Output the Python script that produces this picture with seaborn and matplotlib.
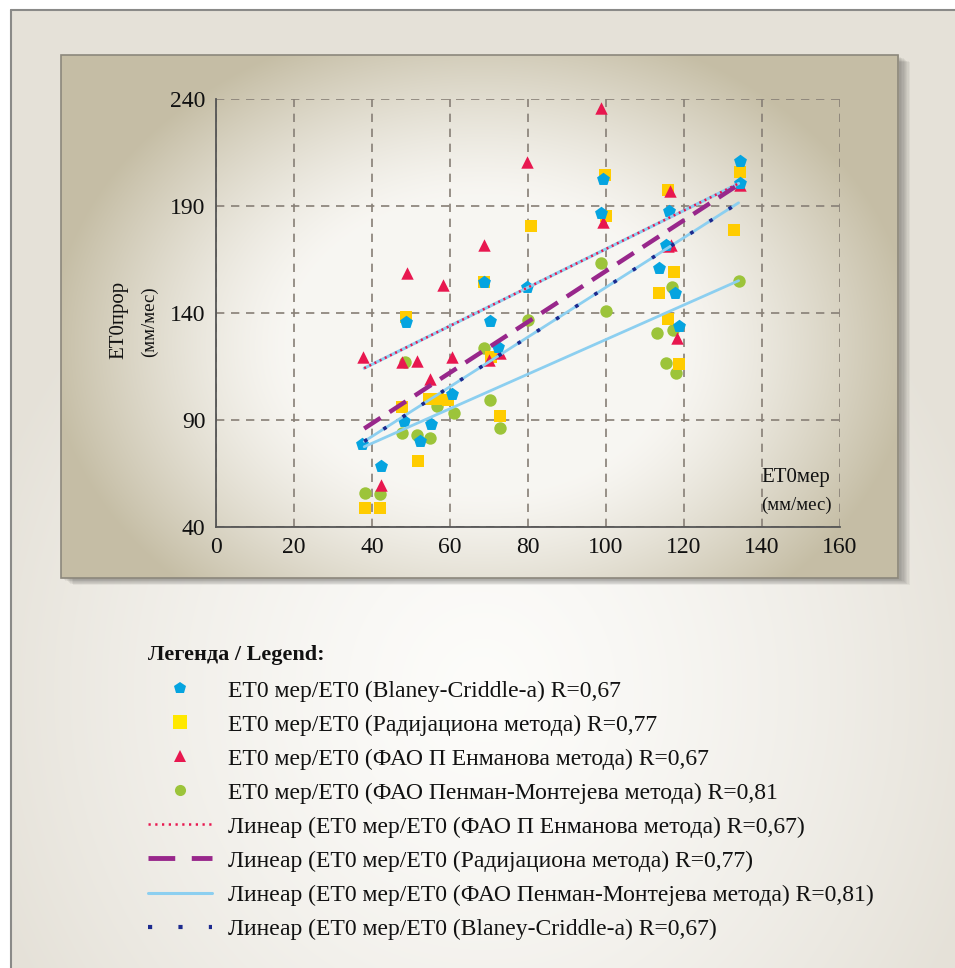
import numpy as np
import pandas as pd
import matplotlib
matplotlib.use("Agg")
import matplotlib.pyplot as plt
import seaborn as sns
from matplotlib.lines import Line2D
from matplotlib.patches import Rectangle

# ---------------- data ----------------
bc_x = [37.5, 42.3, 48.1, 48.8, 52.3, 55.0, 60.4, 68.7, 70.2, 72.3, 79.7, 99.2, 98.7, 113.7, 115.3, 116.2, 117.8, 118.7, 134.3, 134.3]
bc_y = [78.6, 68.6, 89.5, 135.7, 80.2, 88.0, 102.1, 154.3, 136.4, 124.3, 152.0, 202.5, 186.9, 160.9, 171.8, 187.8, 149.5, 133.9, 211.0, 200.9]

rad_x = [38.3, 42.0, 47.8, 48.8, 51.7, 54.5, 57.0, 59.5, 68.7, 70.4, 72.7, 80.8, 99.7, 100.1, 113.7, 115.8, 115.8, 117.5, 118.7, 132.7, 134.3]
rad_y = [48.7, 48.7, 95.9, 138.3, 70.8, 99.8, 100.0, 99.3, 154.3, 119.3, 91.9, 180.5, 204.5, 185.3, 149.4, 197.5, 137.0, 159.2, 116.2, 178.6, 206.0]

enm_x = [37.7, 42.2, 47.8, 48.9, 51.5, 54.9, 58.1, 60.6, 68.8, 70.1, 72.7, 79.7, 98.8, 99.2, 115.8, 116.7, 116.4, 118.3, 134.3]
enm_y = [119.3, 59.5, 117.0, 158.5, 117.7, 109.0, 153.0, 119.6, 171.8, 118.0, 121.2, 210.7, 235.6, 182.7, 171.3, 172.0, 197.0, 128.2, 199.8]

pm_x = [38.2, 42.0, 47.7, 48.5, 51.5, 54.9, 56.6, 60.9, 68.6, 70.2, 72.7, 79.9, 98.6, 99.9, 113.0, 115.3, 116.8, 117.2, 117.9, 134.2]
pm_y = [55.7, 55.3, 83.8, 117.2, 83.0, 81.7, 96.5, 93.1, 123.5, 99.3, 86.4, 136.7, 163.5, 141.1, 130.8, 116.5, 152.0, 132.0, 112.1, 155.1]

# trend lines (start / end values)
trend_x = [38, 134]
trend_enm = [114.2, 200.5]
trend_rad = [86.0, 200.0]
trend_pm = [77.5, 155.1]
trend_bc = [80.0, 191.5]

x_ticks = [0, 20, 40, 60, 80, 100, 120, 140, 160]
y_ticks = [40, 90, 140, 190, 240]

legend_title = "Легенда / Legend:"
labels_pts = ["ET0 мер/ET0 (Blaney-Criddle-а) R=0,67",
              "ET0 мер/ET0 (Радијациона метода) R=0,77",
              "ET0 мер/ET0 (ФАО П Енманова метода) R=0,67",
              "ET0 мер/ET0 (ФАО Пенман-Монтејева метода) R=0,81"]
labels_lines = ["Линеар (ET0 мер/ET0 (ФАО П Енманова метода) R=0,67)",
                "Линеар (ET0 мер/ET0 (Радијациона метода) R=0,77)",
                "Линеар (ET0 мер/ET0 (ФАО Пенман-Монтејева метода) R=0,81)",
                "Линеар (ET0 мер/ET0 (Blaney-Criddle-а) R=0,67)"]

# ---------------- style ----------------
sns.set_theme(style="white")
SERIF = ["Liberation Serif", "DejaVu Serif"]
plt.rcParams["font.family"] = SERIF

C_BC = "#05a4e0"
C_RAD = "#ffcc00"
C_ENM = "#e8174f"
C_PM = "#9cc43a"
C_PUR = "#98278b"
C_LB = "#8ccff0"
C_NAVY = "#1c2a8e"
C_TXT = "#111111"

W, H = 955, 968
fig = plt.figure(figsize=(W / 100, H / 100), dpi=100)

# ---------------- background ----------------
bg = fig.add_axes([0, 0, 1, 1], zorder=0)
bg.set_xlim(0, W)
bg.set_ylim(H, 0)
bg.axis("off")
bg.add_patch(Rectangle((0, 0), W, H, color="white", zorder=0))

yy, xx = np.mgrid[0:H - 10, 0:W - 11]
r = np.sqrt(((xx - 470) / 520.0) ** 2 + ((yy - 680) / 560.0) ** 2)
t = np.clip(r, 0, 1) ** 1.4
light = np.array([0.990, 0.988, 0.980])
dark = np.array([0.900, 0.885, 0.850])
img = light[None, None, :] * (1 - t[..., None]) + dark[None, None, :] * t[..., None]
bg.imshow(img, extent=(11, W, H, 10), zorder=1, aspect="auto", interpolation="bilinear")
bg.plot([11, W], [10, 10], color="#8a8a88", lw=1.5, zorder=2)
bg.plot([11, 11], [10, H], color="#8a8a88", lw=1.5, zorder=2)

# panel shadow (soft, towards bottom-right)
for k in range(8):
    off = 12 - k * 1.3
    bg.add_patch(Rectangle((61 + off, 55 + off * 0.6), 837, 523, color="#3a3834",
                           alpha=0.06, lw=0, zorder=3))

px0, px1, py0, py1 = 61, 898, 55, 578
yy, xx = np.mgrid[0:py1 - py0, 0:px1 - px0]
r = np.sqrt(((xx - 420) / 430.0) ** 2 + ((yy - 290) / 330.0) ** 2)
t = np.clip((r - 0.45) / 0.55, 0, 1) ** 1.3
light = np.array([0.972, 0.966, 0.950])
dark = np.array([0.775, 0.745, 0.650])
img = light[None, None, :] * (1 - t[..., None]) + dark[None, None, :] * t[..., None]
bg.imshow(img, extent=(px0, px1, py1, py0), zorder=4, aspect="auto", interpolation="bilinear")
bg.add_patch(Rectangle((px0, py0), px1 - px0, py1 - py0, fill=False, ec="#8c877c", lw=1.2, zorder=5))

# ---------------- plot axes ----------------
ax = fig.add_axes([216 / W, 1 - 527 / H, (840 - 216) / W, (527 - 99) / H], zorder=2)
ax.patch.set_alpha(0)

sns.scatterplot(x=pm_x, y=pm_y, ax=ax, color=C_PM, marker="o", s=80, linewidth=0, zorder=3)
sns.scatterplot(x=rad_x, y=rad_y, ax=ax, color=C_RAD, marker="s", s=85, linewidth=0, zorder=3)
sns.scatterplot(x=enm_x, y=enm_y, ax=ax, color=C_ENM, marker="^", s=80, linewidth=0, zorder=3)
sns.scatterplot(x=bc_x, y=bc_y, ax=ax, color=C_BC, marker="p", s=95, linewidth=0, zorder=3)

def tline(yv, **kw):
    sns.lineplot(x=trend_x, y=yv, ax=ax, **kw)
    return ax.lines[-1]

# light blue underlays
tline(trend_enm, color=C_LB, lw=2.2, zorder=4)
tline(trend_bc, color=C_LB, lw=2.0, zorder=4)
tline(trend_pm, color=C_LB, lw=2.0, zorder=4)
l = tline(trend_enm, color=C_ENM, lw=1.8, zorder=5)
l.set_linestyle((0, (0.8, 1.5)))
l = tline(trend_rad, color=C_PUR, lw=3.2, zorder=5)
l.set_linestyle((0, (4.4, 2.4)))
l = tline(trend_bc, color=C_NAVY, lw=2.6, zorder=5)
l.set_linestyle((0, (1.0, 5.3)))

ax.set_xlim(0, 160)
ax.set_ylim(40, 240)
ax.set_xticks(x_ticks)
ax.set_yticks(y_ticks)
ax.grid(True, ls=(0, (5, 4)), color="#877f76", lw=1.2)
ax.set_axisbelow(True)
for s in ["top", "right"]:
    ax.spines[s].set_visible(False)
for s in ["left", "bottom"]:
    ax.spines[s].set_visible(True)
    ax.spines[s].set_color("#555555")
    ax.spines[s].set_linewidth(1.3)
ax.tick_params(axis="both", direction="inout", length=9, width=1.0, color="#777777",
               labelsize=17, labelcolor=C_TXT, pad=3)
ax.set_xlabel("")
ax.set_ylabel("")
for lab in ax.get_xticklabels() + ax.get_yticklabels():
    lab.set_fontfamily(SERIF)

# axis titles
fig.text(119 / W, 1 - 320 / H, "ET0прор", rotation=90, ha="center", va="center", fontsize=15, color=C_TXT)
fig.text(149 / W, 1 - 322 / H, "(мм/мес)", rotation=90, ha="center", va="center", fontsize=13.5, color=C_TXT)
fig.text(796 / W, 1 - 478 / H, "ET0мер", ha="center", va="center", fontsize=15, color=C_TXT, zorder=6)
fig.text(796 / W, 1 - 505 / H, "(мм/мес)", ha="center", va="center", fontsize=13.5, color=C_TXT, zorder=6)

# ---------------- legend ----------------
fig.text(148 / W, 1 - 655 / H, legend_title, ha="left", va="center", fontsize=16,
         weight="bold", color=C_TXT)
handles = [
    Line2D([], [], ls="none", marker="p", ms=9, color=C_BC, mew=0),
    Line2D([], [], ls="none", marker="s", ms=10, color="#ffe800", mew=0),
    Line2D([], [], ls="none", marker="^", ms=8, color=C_ENM, mew=0),
    Line2D([], [], ls="none", marker="o", ms=8, color=C_PM, mew=0),
    Line2D([], [], ls=(0, (0.9, 1.8)), lw=1.8, color=C_ENM),
    Line2D([], [], ls=(0, (5.5, 3.4)), lw=3.5, color=C_PUR),
    Line2D([], [], ls="-", lw=2.2, color=C_LB),
    Line2D([], [], ls=(0, (1.0, 6.3)), lw=3.0, color=C_NAVY),
]
leg = fig.legend(handles, labels_pts + labels_lines, loc="upper left",
                 bbox_to_anchor=(148 / W, 1 - 680 / H), frameon=False,
                 prop={"family": SERIF, "size": 17},
                 handlelength=2.7, handletextpad=0.68,
                 labelspacing=0.53, numpoints=1, borderpad=0, borderaxespad=0)
for t_ in leg.get_texts():
    t_.set_color(C_TXT)

fig.savefig("out.png", dpi=100)
